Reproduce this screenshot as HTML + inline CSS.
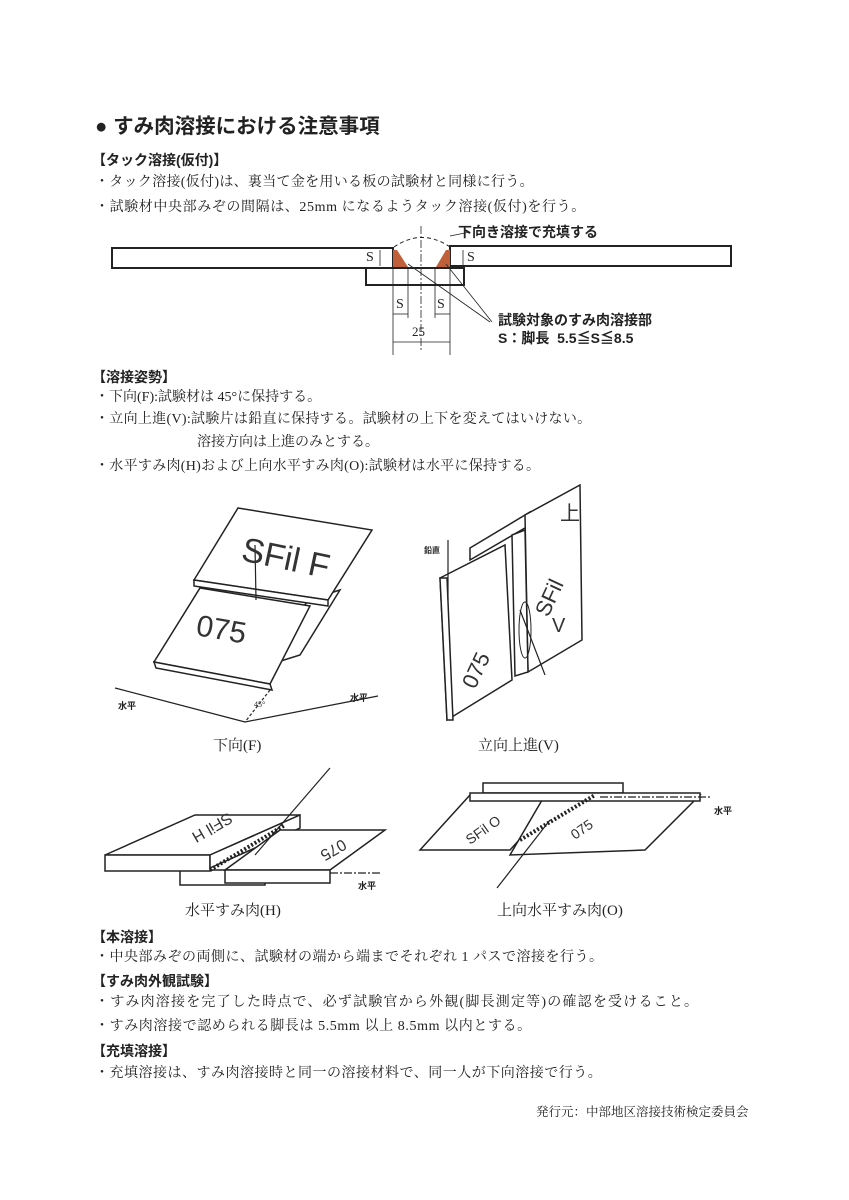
<!DOCTYPE html>
<html><head><meta charset="utf-8"><style>
body{margin:0;background:#fff;}
#p{position:relative;width:849px;height:1200px;overflow:hidden;font-family:"Liberation Serif","Noto Serif CJK SC","Noto Sans CJK JP",serif;color:#222;}
.t{position:absolute;white-space:nowrap;font-size:14px;line-height:16px;}
.b{font-family:"Liberation Sans","Noto Sans CJK JP",sans-serif;font-weight:bold;}
svg{position:absolute;left:0;top:0;}
</style></head><body><div id="p">
<div class="t b" style="left:95px;top:115px;font-size:20.5px;line-height:23px;">●&nbsp;すみ肉溶接における注意事項</div>
<div class="t b" style="left:92px;top:152px;">【タック溶接(仮付)】</div>
<div class="t" style="left:95px;top:175px;letter-spacing:0.3px;">・タック溶接(仮付)は、裏当て金を用いる板の試験材と同様に行う。</div>
<div class="t" style="left:95px;top:200px;letter-spacing:0.6px;">・試験材中央部みぞの間隔は、25mm になるようタック溶接(仮付)を行う。</div>

<svg width="849" height="1200" viewBox="0 0 849 1200">
<g stroke="#222" fill="none" stroke-width="2">
<rect x="112" y="248" width="281" height="20"/>
<rect x="450" y="246" width="281" height="20"/>
<rect x="366" y="268" width="98" height="17"/>
</g>
<polygon points="393,250 397,250 408,267 393,267" fill="#c0603a"/>
<polygon points="450,250 446,250 436,267 450,267" fill="#c0603a"/>
<path d="M394,247 Q422,228 450,247" stroke="#222" stroke-dasharray="4,3" fill="none"/>
<line x1="421" y1="226" x2="421" y2="352" stroke="#222" stroke-width="0.8" stroke-dasharray="8,2,2,2"/>
<g stroke="#222" stroke-width="0.8" fill="none">
<line x1="393" y1="268" x2="393" y2="355"/><line x1="408" y1="268" x2="408" y2="318"/>
<line x1="435" y1="268" x2="435" y2="318"/><line x1="450" y1="268" x2="450" y2="355"/>
<line x1="393" y1="314" x2="408" y2="314"/><line x1="435" y1="314" x2="450" y2="314"/>
<line x1="393" y1="342" x2="450" y2="342"/>
<line x1="380" y1="250" x2="380" y2="266"/><line x1="463" y1="250" x2="463" y2="266"/>
<line x1="408" y1="264" x2="490" y2="322"/><line x1="446" y1="264" x2="492" y2="322"/>
<line x1="450" y1="236" x2="470" y2="232"/>
</g>
</svg>
<div class="t b" style="left:458px;top:224px;font-size:14px;">下向き溶接で充填する</div>
<div class="t" style="left:366px;top:250px;font-size:14px;">S</div>
<div class="t" style="left:467px;top:250px;font-size:14px;">S</div>
<div class="t" style="left:396px;top:297px;font-size:14px;">S</div>
<div class="t" style="left:437px;top:297px;font-size:14px;">S</div>
<div class="t" style="left:412px;top:324px;font-size:13px;">25</div>
<div class="t b" style="left:498px;top:312px;">試験対象のすみ肉溶接部</div>
<div class="t b" style="left:498px;top:330px;">S：脚長&nbsp; 5.5≦S≦8.5</div>

<div class="t b" style="left:92px;top:369px;">【溶接姿勢】</div>
<div class="t" style="left:95px;top:390px;">・下向(F):試験材は 45°に保持する。</div>
<div class="t" style="left:95px;top:412px;letter-spacing:0.3px;">・立向上進(V):試験片は鉛直に保持する。試験材の上下を変えてはいけない。</div>
<div class="t" style="left:197px;top:435px;">溶接方向は上進のみとする。</div>
<div class="t" style="left:95px;top:459px;letter-spacing:0.3px;">・水平すみ肉(H)および上向水平すみ肉(O):試験材は水平に保持する。</div>

<svg width="849" height="1200" viewBox="0 0 849 1200">
<g stroke="#222" stroke-width="1.5" fill="#fff">
<polygon points="308,600 340,590 300,655 268,665"/>
<polygon points="238,508 372,530 328,600 194,580"/>
<polygon points="194,580 328,600 328,606 194,586"/>
<polygon points="200,588 310,606 270,684 154,662"/>
<polygon points="154,662 270,684 272,690 156,668"/>
<polygon points="470,548 530,512 530,525 470,560"/>
<polygon points="525,515 580,485 582,640 528,672"/>
<polygon points="512,535 525,530 528,672 515,676"/>
<polygon points="440,578 505,545 512,680 447,720"/>
<polygon points="440,578 447,578 453,720 447,720"/>
<polygon points="180,870 265,870 265,885 180,885"/>
<polygon points="105,855 195,815 300,815 210,855"/>
<rect x="105" y="855" width="105" height="16"/>
<polygon points="210,855 300,815 300,828 210,868"/>
<polygon points="225,870 280,830 385,830 330,870"/>
<rect x="225" y="870" width="105" height="13"/>
<rect x="483" y="783" width="140" height="10"/>
<polygon points="470,795 560,795 510,850 420,850"/>
<polygon points="545,795 700,795 645,850 510,855"/>
<rect x="470" y="793" width="230" height="8"/>
</g>
<g stroke="#222" stroke-width="1.2" fill="none">
<line x1="255" y1="545" x2="256" y2="600"/>
<line x1="245" y1="722" x2="115" y2="688"/><line x1="245" y1="722" x2="378" y2="696"/>
<line x1="270" y1="690" x2="245" y2="722" stroke-dasharray="3,2"/>
<line x1="448" y1="600" x2="448" y2="540"/>
<line x1="520" y1="610" x2="545" y2="675"/>
<line x1="330" y1="768" x2="255" y2="855"/>
<line x1="330" y1="873" x2="380" y2="873" stroke-dasharray="8,2,2,2"/>
<line x1="600" y1="797" x2="710" y2="797" stroke-dasharray="8,2,2,2"/>
<line x1="550" y1="820" x2="497" y2="888"/>
</g>
<ellipse cx="525" cy="630" rx="6" ry="28" fill="none" stroke="#222"/>
<line x1="210" y1="870" x2="285" y2="825" stroke="#222" stroke-width="4" stroke-dasharray="2,2"/>
<line x1="520" y1="840" x2="595" y2="795" stroke="#222" stroke-width="4" stroke-dasharray="2,2"/>
<g font-family="Liberation Sans,sans-serif" fill="#333">
<text x="240" y="560" font-size="34" transform="rotate(12 240 560)">SFil F</text>
<text x="195" y="635" font-size="30" transform="rotate(10 195 635)">075</text>
<text x="475" y="690" font-size="22" transform="rotate(-65 475 690)">075</text>
<text x="548" y="618" font-size="22" transform="rotate(-65 548 618)">SFil</text>
<text x="552" y="632" font-size="20">V</text>
<text x="560" y="520" font-size="20">上</text>
<text x="180" y="855" font-size="16" transform="rotate(150 210 840)">SFil H</text>
<text x="300" y="830" font-size="16" transform="rotate(150 320 840)">075</text>
<text x="470" y="845" font-size="14" transform="rotate(-35 470 845)">SFil O</text>
<text x="575" y="840" font-size="14" transform="rotate(-35 575 840)">075</text>
</g>
</svg>
<div class="t b" style="left:118px;top:698px;font-size:9px;">水平</div>
<div class="t b" style="left:350px;top:690px;font-size:9px;">水平</div>
<div class="t" style="left:254px;top:697px;font-size:8px;">45°</div>
<div class="t b" style="left:424px;top:543px;font-size:8px;">鉛直</div>
<div class="t b" style="left:358px;top:878px;font-size:9px;">水平</div>
<div class="t b" style="left:714px;top:803px;font-size:9px;">水平</div>
<div class="t" style="left:213px;top:738px;font-size:15px;">下向(F)</div>
<div class="t" style="left:478px;top:738px;font-size:15px;">立向上進(V)</div>
<div class="t" style="left:185px;top:903px;font-size:15px;">水平すみ肉(H)</div>
<div class="t" style="left:497px;top:903px;font-size:15px;">上向水平すみ肉(O)</div>

<div class="t b" style="left:92px;top:929px;">【本溶接】</div>
<div class="t" style="left:95px;top:950px;letter-spacing:0.5px;">・中央部みぞの両側に、試験材の端から端までそれぞれ 1 パスで溶接を行う。</div>
<div class="t b" style="left:92px;top:973px;">【すみ肉外観試験】</div>
<div class="t" style="left:95px;top:995px;letter-spacing:1.2px;">・すみ肉溶接を完了した時点で、必ず試験官から外観(脚長測定等)の確認を受けること。</div>
<div class="t" style="left:95px;top:1019px;letter-spacing:0.6px;">・すみ肉溶接で認められる脚長は 5.5mm 以上 8.5mm 以内とする。</div>
<div class="t b" style="left:92px;top:1043px;">【充填溶接】</div>
<div class="t" style="left:95px;top:1066px;letter-spacing:0.5px;">・充填溶接は、すみ肉溶接時と同一の溶接材料で、同一人が下向溶接で行う。</div>
<div class="t" style="left:536px;top:1104px;font-size:12.5px;">発行元：中部地区溶接技術検定委員会</div>
</div></body></html>
